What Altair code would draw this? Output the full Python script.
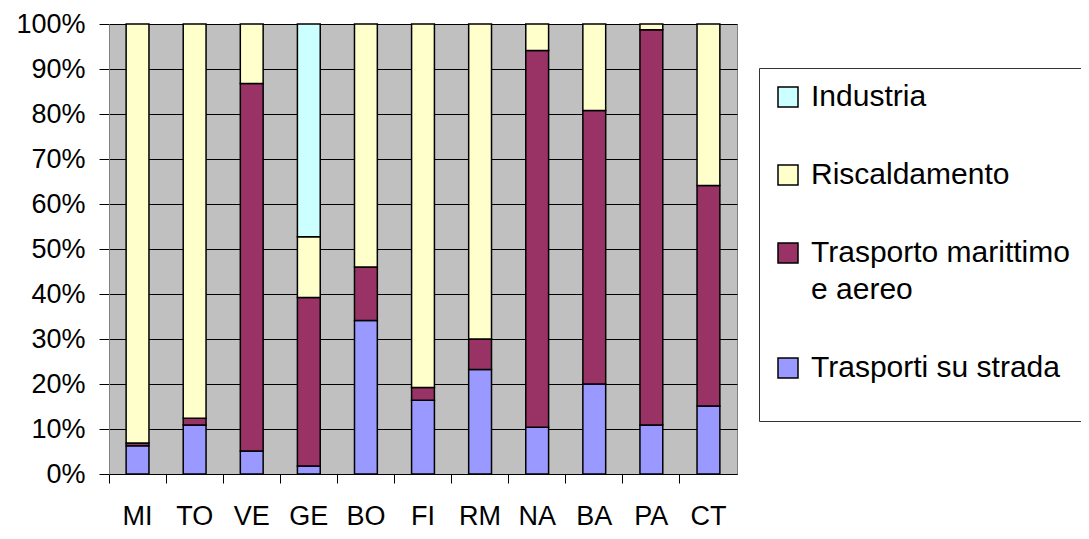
import altair as alt
import pandas as pd

cities = ["MI", "TO", "VE", "GE", "BO", "FI", "RM", "NA", "BA", "PA", "CT"]
series = ["Industria", "Riscaldamento", "Trasporto marittimo e aereo", "Trasporti su strada"]
colors = ["#CCFFFF", "#FFFFCC", "#993366", "#9999FF"]

# shares in percent per city
trasporti_strada = [6.3, 10.9, 5.1, 1.8, 34.1, 16.4, 23.2, 10.4, 20.0, 10.9, 15.1]
trasporto_mar_aereo = [0.6, 1.5, 81.7, 37.4, 11.9, 2.8, 6.8, 83.7, 60.8, 87.8, 49.0]
riscaldamento = [93.1, 87.6, 13.2, 13.5, 54.0, 80.8, 70.0, 5.9, 19.2, 1.3, 35.9]
industria = [0, 0, 0, 47.3, 0, 0, 0, 0, 0, 0, 0]

values_by_series = {
    "Trasporti su strada": trasporti_strada,
    "Trasporto marittimo e aereo": trasporto_mar_aereo,
    "Riscaldamento": riscaldamento,
    "Industria": industria,
}
stack_rank = {"Trasporti su strada": 0, "Trasporto marittimo e aereo": 1,
              "Riscaldamento": 2, "Industria": 3}

rows = []
for s, vals in values_by_series.items():
    for c, v in zip(cities, vals):
        if v > 0:
            rows.append({"city": c, "serie": s, "value": v, "rank": stack_rank[s]})
df = pd.DataFrame(rows)

FONT = "Liberation Sans"

chart = alt.Chart(df).mark_bar(
    width=alt.RelativeBandSize(0.4), stroke="black", strokeWidth=1.5
).encode(
    x=alt.X("city:N", sort=cities, title=None,
            scale=alt.Scale(paddingInner=0, paddingOuter=0),
            axis=alt.Axis(labelAngle=0, bandPosition=0, tickSize=9, labelPadding=20,
                          labelFontSize=27, labelColor="black", labelFont=FONT,
                          domainColor="black", tickColor="black", grid=False)),
    y=alt.Y("value:Q", stack="normalize", title=None,
            scale=alt.Scale(domain=[0, 1]),
            axis=alt.Axis(format=".0%", values=[i / 10 for i in range(11)],
                          tickSize=10, labelPadding=14, labelFontSize=27, labelColor="black",
                          labelFont=FONT, domainColor="#808080", tickColor="black",
                          grid=True, gridColor="black", gridWidth=1)),
    color=alt.Color("serie:N", scale=alt.Scale(domain=series, range=colors),
                    legend=alt.Legend(
                        title=" ", titleOrient="bottom", titleFontSize=2, titlePadding=22,
                        orient="none", legendX=650, legendY=44,
                        symbolType="square", symbolSize=400, symbolStrokeColor="black",
                        symbolStrokeWidth=1.5, symbolOpacity=1,
                        labelFontSize=30, labelFont=FONT, labelColor="black", labelLimit=400,
                        labelOffset=8, rowPadding=48, padding=14,
                        strokeColor="#333333", fillColor="white",
                        labelExpr="datum.label == 'Trasporto marittimo e aereo' ? ['Trasporto marittimo', 'e aereo'] : datum.label",
                    )),
    order=alt.Order("rank:Q", sort="ascending"),
).properties(
    width=628, height=450,
    autosize=alt.AutoSizeParams(type="none"),
    padding={"left": 101, "top": 16, "right": 344, "bottom": 57},
).configure(
    background="white",
    view=alt.ViewConfig(fill="#C0C0C0", stroke="#808080", strokeWidth=1),
    style={"guide-label": {"lineHeight": 37}},
)

chart.save("out.html", embed_options={"renderer": "svg", "actions": False})
